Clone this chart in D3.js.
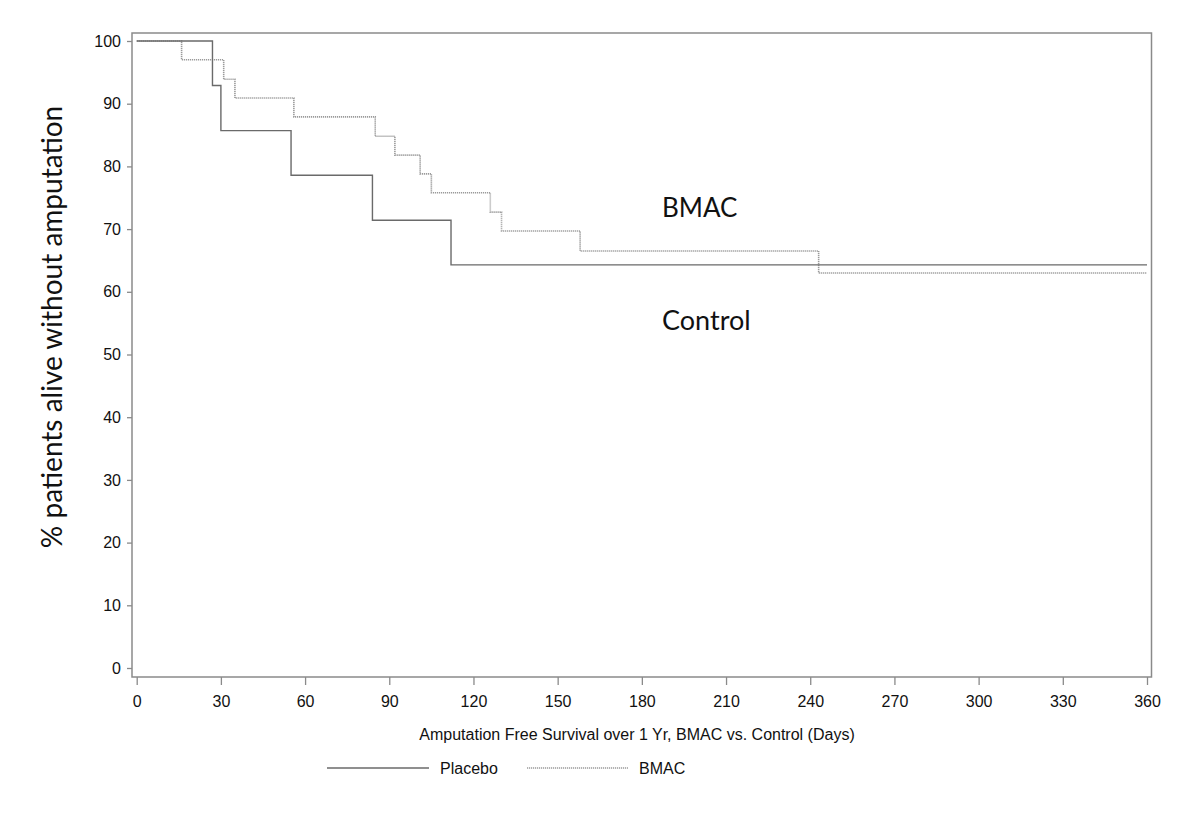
<!DOCTYPE html>
<html>
<head>
<meta charset="utf-8">
<script src="https://cdn.jsdelivr.net/npm/d3@7"></script>
<style>
  html, body { margin: 0; padding: 0; background: #fff; }
  svg { display: block; }
</style>
</head>
<body>
<svg id="chart" width="1200" height="833"></svg>
<script>
// ---- Data ----
const placeboDays   = [0, 27, 30, 55, 84, 112, 360];
const placeboValues = [100, 92.9, 85.7, 78.6, 71.4, 64.3, 64.3];
const bmacDays      = [0, 16, 31, 35, 56, 85, 92, 101, 105, 126, 130, 158, 243, 360];
const bmacValues    = [100, 97.0, 93.9, 90.9, 87.9, 84.8, 81.8, 78.8, 75.8, 72.7, 69.7, 66.5, 63.0, 63.0];
const xTicks = [0, 30, 60, 90, 120, 150, 180, 210, 240, 270, 300, 330, 360];
const yTicks = [0, 10, 20, 30, 40, 50, 60, 70, 80, 90, 100];
const legendLabels = ["Placebo", "BMAC"];

// ---- Layout ----
const svg = d3.select("#chart");
const frame = { left: 132, top: 33, right: 1151.5, bottom: 677 };
const x = d3.scaleLinear().domain([0, 360]).range([136.7, 1147]);
const y = d3.scaleLinear().domain([0, 100]).range([668, 41]);
const axisColor = "#8a8a8a";
const font = "Liberation Sans, Arial, sans-serif";

// frame
svg.append("rect")
  .attr("x", frame.left).attr("y", frame.top)
  .attr("width", frame.right - frame.left).attr("height", frame.bottom - frame.top)
  .attr("fill", "none").attr("stroke", axisColor).attr("stroke-width", 1.5);

// y axis
const yAxis = svg.append("g")
  .attr("transform", `translate(${frame.left},0)`)
  .call(d3.axisLeft(y).tickValues(yTicks).tickSize(5).tickPadding(6).tickFormat(d3.format("d")));
yAxis.select(".domain").remove();
yAxis.selectAll(".tick line").attr("stroke", axisColor).attr("stroke-width", 1.3);
yAxis.selectAll(".tick text").attr("fill", "#111").style("font-family", font).style("font-size", "16px");

// x axis
const xAxis = svg.append("g")
  .attr("transform", `translate(0,${frame.bottom})`)
  .call(d3.axisBottom(x).tickValues(xTicks).tickSize(8).tickPadding(10.5).tickFormat(d3.format("d")));
xAxis.select(".domain").remove();
xAxis.selectAll(".tick line").attr("stroke", axisColor).attr("stroke-width", 1.3);
xAxis.selectAll(".tick text").attr("fill", "#111").style("font-family", font).style("font-size", "16px");

// lines
const line = d3.line().x(d => x(d[0])).y(d => y(d[1])).curve(d3.curveStepAfter);
const placeboPts = placeboDays.map((d, i) => [d, placeboValues[i]]);
const bmacPts = bmacDays.map((d, i) => [d, bmacValues[i]]);

svg.append("path").datum(bmacPts)
  .attr("d", line).attr("fill", "none")
  .attr("stroke", "#9a9a9a").attr("stroke-width", 1.6).attr("stroke-dasharray", "1.2,0.8");
svg.append("path").datum(placeboPts)
  .attr("d", line).attr("fill", "none")
  .attr("stroke", "#6a6a6a").attr("stroke-width", 1.4);

// in-plot labels
const labelFont = "Lato, 'Open Sans', sans-serif";
svg.append("text").attr("x", 662).attr("y", 217).text("BMAC")
  .style("font-family", labelFont).style("font-size", "26px").attr("fill", "#111");
svg.append("text").attr("x", 662).attr("y", 330).text("Control")
  .style("font-family", labelFont).style("font-size", "27px").attr("fill", "#111");

// y title
svg.append("text")
  .attr("transform", "translate(62,327) rotate(-90)")
  .attr("text-anchor", "middle")
  .text("% patients alive without amputation")
  .style("font-family", labelFont).style("font-size", "28px").attr("fill", "#111");

// x title
svg.append("text")
  .attr("x", 637).attr("y", 740).attr("text-anchor", "middle")
  .text("Amputation Free Survival over 1 Yr, BMAC vs. Control (Days)")
  .style("font-family", font).style("font-size", "16px").attr("fill", "#111");

// legend
const legendItems = [
  { label: legendLabels[0], x1: 327, x2: 429, tx: 440, stroke: "#6a6a6a", dash: null, w: 1.4 },
  { label: legendLabels[1], x1: 527, x2: 628, tx: 639, stroke: "#9a9a9a", dash: "1.2,0.8", w: 1.6 }
];
const lg = svg.append("g");
legendItems.forEach(it => {
  lg.append("line").attr("x1", it.x1).attr("x2", it.x2).attr("y1", 768).attr("y2", 768)
    .attr("stroke", it.stroke).attr("stroke-width", it.w).attr("stroke-dasharray", it.dash);
  lg.append("text").attr("x", it.tx).attr("y", 774).text(it.label)
    .style("font-family", font).style("font-size", "16px").attr("fill", "#111");
});
</script>
</body>
</html>
